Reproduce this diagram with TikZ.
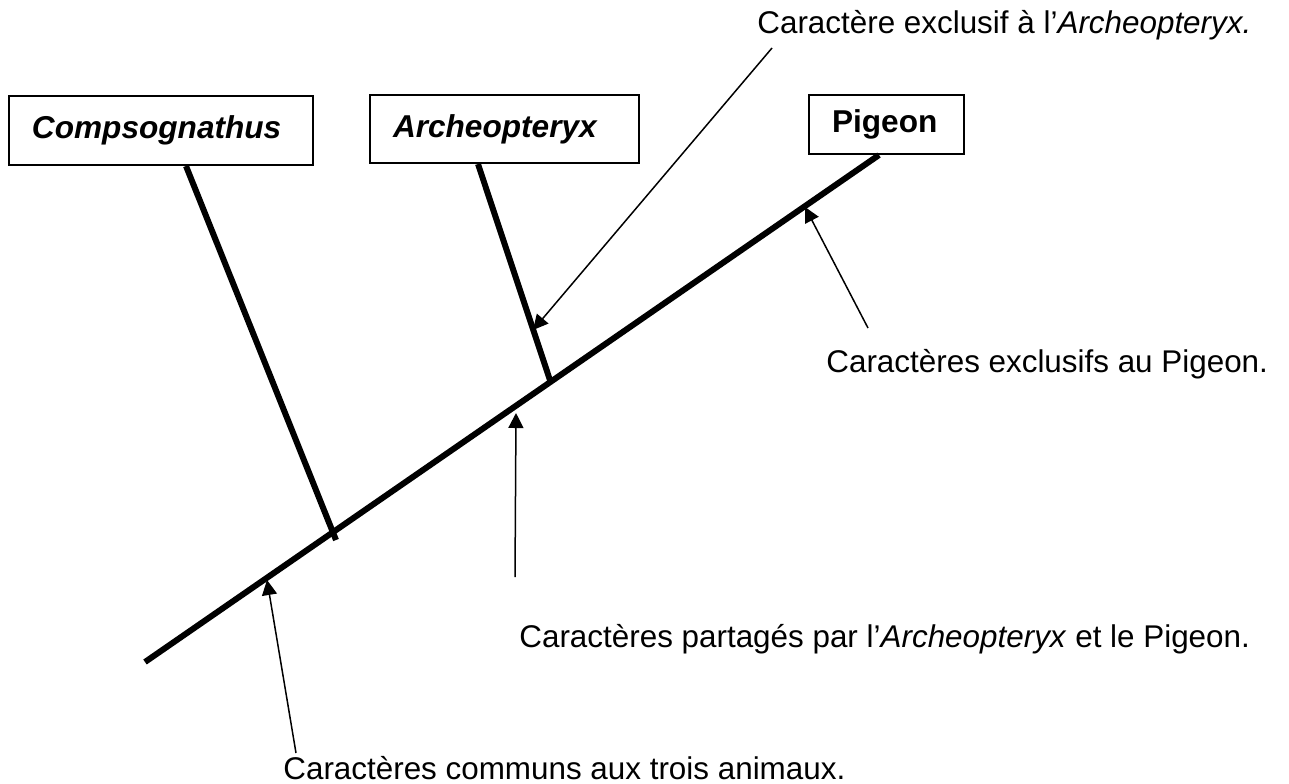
\documentclass[tikz,border=0pt]{standalone}
\usepackage{fontspec}
\setmainfont{Liberation Sans}
\usetikzlibrary{arrows.meta,calc}
\begin{document}
\begin{tikzpicture}[x=0.5pt,y=-0.5pt,
  taxon/.style={draw,line width=1pt,anchor=west,align=left,inner xsep=11.5pt,inner ysep=0pt,
    font=\fontsize{15.8}{18}\selectfont\bfseries},
  branch/.style={line width=3pt},
  pointer/.style={line width=0.75pt,-{Triangle[length=7.5pt,width=7.5pt]}},
  note/.style={anchor=base west,inner sep=0pt,font=\fontsize{15.7}{18}\selectfont}]
\useasboundingbox (0,0) rectangle (1289,783);
% taxa boxes
\node[taxon,text width=129pt,minimum height=34.5pt] (comp) at (8,130.5) {\itshape Compsognathus};
\node[taxon,text width=111.5pt,minimum height=34pt] (arch) at (369,129) {\itshape Archeopteryx};
\node[taxon,text width=54.5pt,minimum height=29.5pt] (pig) at (808,124.5) {Pigeon};
% tree
\coordinate (root) at (145,662);
\coordinate (ptop) at ([xshift=-3.75pt]pig.south);
\draw[branch] (root) -- (ptop);
\coordinate (compend) at (336,540);
\draw[branch] ([xshift=12.5pt]comp.south) -- (compend);
\coordinate (archend) at ($(root)!0.5525!(ptop)$);
\draw[branch] ([xshift=-13.25pt]arch.south) -- (archend);
% notes
\node[note] (t1) at (757,33) {Caractère exclusif à l’\textit{Archeopteryx.}};
\node[note] (t2) at (826,372) {Caractères exclusifs au Pigeon.};
\node[note] (t3) at (519,647) {Caractères partagés par l’\textit{Archeopteryx} et le Pigeon.};
\node[note] (t4) at (283,779) {Caractères communs aux trois animaux.};
% arrows
\coordinate (a1s) at (772,48);  \coordinate (a1e) at (533,330);
\coordinate (a2s) at (868,328); \coordinate (a2e) at (805,207);
\coordinate (a3s) at (515,577); \coordinate (a3e) at (516,413);
\coordinate (a4s) at (296,753); \coordinate (a4e) at (267,580);
\draw[pointer] (a1s) -- (a1e);
\draw[pointer] (a2s) -- (a2e);
\draw[pointer] (a3s) -- (a3e);
\draw[pointer] (a4s) -- (a4e);
\end{tikzpicture}
\end{document}
